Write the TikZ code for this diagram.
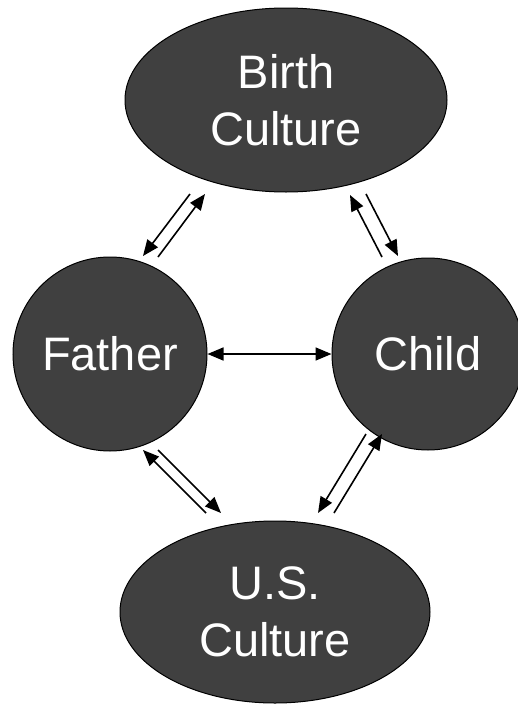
\documentclass[tikz,border=0pt]{standalone}
\usepackage{fontspec}
\setmainfont{Liberation Sans}
\usetikzlibrary{arrows.meta,shapes.geometric}
\definecolor{bubble}{HTML}{404040}

\begin{document}
\begin{tikzpicture}[x=1pt,y=-1pt,
    culture/.style={ellipse,draw,fill=bubble,text=white,line width=1pt,
      inner sep=0pt,align=center,font=\fontsize{47}{57}\selectfont},
    person/.style={circle,draw,fill=bubble,text=white,line width=1pt,
      inner sep=0pt,font=\fontsize{47}{57}\selectfont},
    link/.style={line width=1.6pt,-{Triangle[length=16pt,width=13pt]}}]
  \useasboundingbox (0,0) rectangle (518,704);
  \node[culture,minimum width=322pt,minimum height=184pt] (birth) at (286,100) {Birth\\Culture};
  \node[person,minimum size=194pt] (father) at (110,354) {Father};
  \node[person,minimum size=192pt] (child) at (428,354) {Child};
  \node[culture,minimum width=310pt,minimum height=182pt] (us) at (275,612) {U.S.\\Culture};
  % free ends of the paired arrows
  \coordinate (bf1) at (190,194); \coordinate (bf2) at (143,256);
  \coordinate (fb1) at (158,257); \coordinate (fb2) at (205,194);
  \coordinate (cb1) at (382,257); \coordinate (cb2) at (350,195);
  \coordinate (bc1) at (366,194); \coordinate (bc2) at (398,256);
  \coordinate (uf1) at (206,513); \coordinate (uf2) at (143,450);
  \coordinate (fu1) at (158,450); \coordinate (fu2) at (221,513);
  \coordinate (cu1) at (366,434); \coordinate (cu2) at (318,513);
  \coordinate (uc1) at (334,513); \coordinate (uc2) at (382,434);
  \draw[link] (bf1) -- (bf2);
  \draw[link] (fb1) -- (fb2);
  \draw[link] (cb1) -- (cb2);
  \draw[link] (bc1) -- (bc2);
  \draw[link] (uf1) -- (uf2);
  \draw[link] (fu1) -- (fu2);
  \draw[link] (cu1) -- (cu2);
  \draw[link] (uc1) -- (uc2);
  \draw[link,{Triangle[length=16pt,width=13pt]}-{Triangle[length=16pt,width=13pt]}] (father) -- (child);
\end{tikzpicture}
\end{document}
